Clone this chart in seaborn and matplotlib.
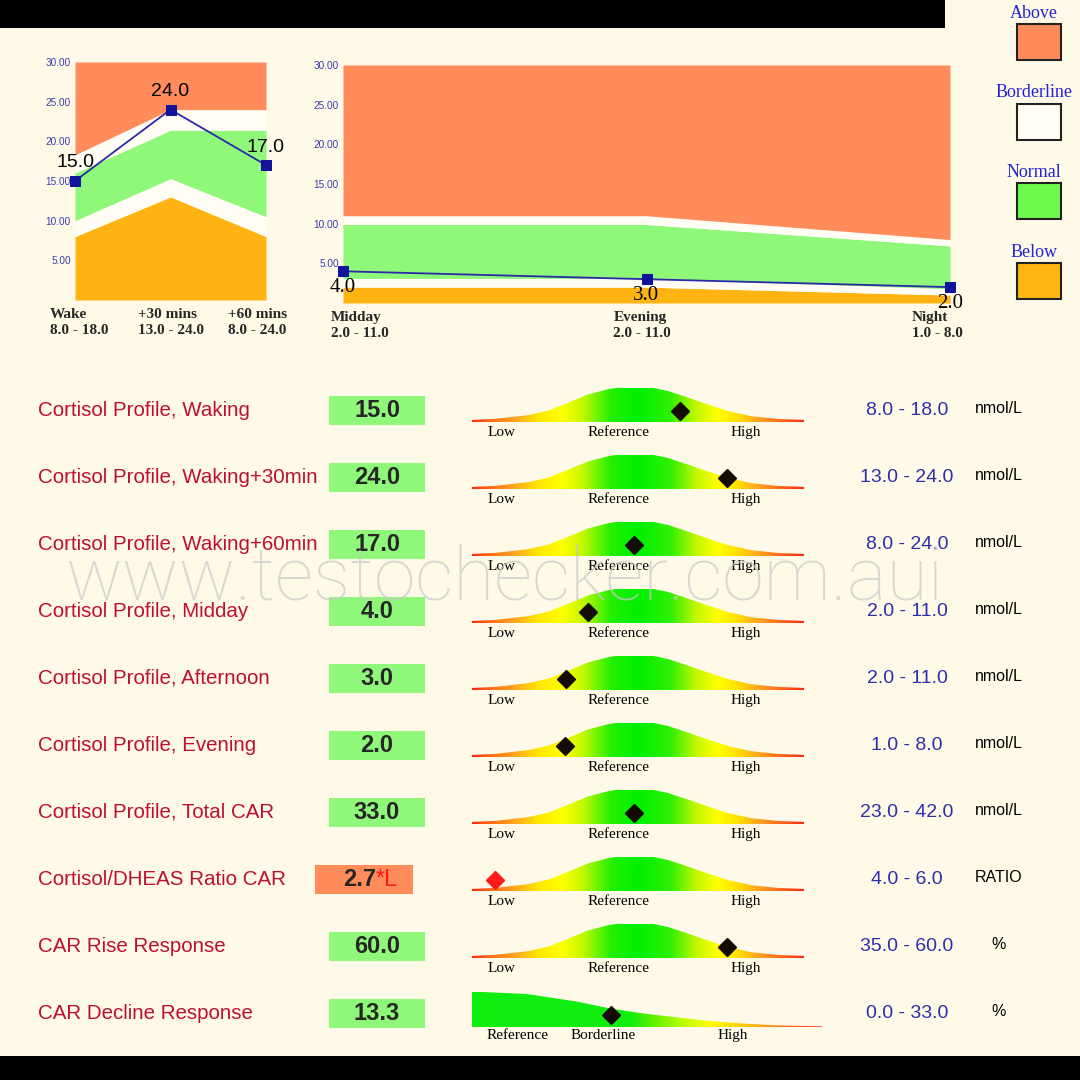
import numpy as np
import matplotlib
matplotlib.use("Agg")
import matplotlib.pyplot as plt
import matplotlib.transforms as mtransforms
from matplotlib.patches import Rectangle
from matplotlib.colors import LinearSegmentedColormap
import seaborn as sns

W = H = 1080

# --- top charts: morning curve ---
morning_times = ["Wake", "+30 mins", "+60 mins"]
morning_ranges = ["8.0 - 18.0", "13.0 - 24.0", "8.0 - 24.0"]
morning_values = [15.0, 24.0, 17.0]
morning_below_top = [8.0, 13.0, 8.0]
morning_normal_low = [10.0, 15.3, 10.5]
morning_normal_high = [16.0, 21.4, 21.4]
morning_above_low = [18.3, 24.0, 24.0]

# --- top charts: day curve ---
day_times = ["Midday", "Evening", "Night"]
day_ranges = ["2.0 - 11.0", "2.0 - 11.0", "1.0 - 8.0"]
day_values = [4.0, 3.0, 2.0]
day_below_top = [2.0, 2.0, 1.0]
day_normal_low = [3.1, 3.1, 1.8]
day_normal_high = [9.9, 9.9, 7.2]
day_above_low = [11.0, 11.0, 8.0]

y_ticks = [5, 10, 15, 20, 25, 30]

# --- legend ---
legend_labels = ["Above", "Borderline", "Normal", "Below"]
legend_colors = ["#ff8c5a", "#fffdf4", "#6cfb4c", "#ffb612"]

# --- result table ---
test_names = [
    "Cortisol Profile, Waking",
    "Cortisol Profile, Waking+30min",
    "Cortisol Profile, Waking+60min",
    "Cortisol Profile, Midday",
    "Cortisol Profile, Afternoon",
    "Cortisol Profile, Evening",
    "Cortisol Profile, Total CAR",
    "Cortisol/DHEAS Ratio CAR",
    "CAR Rise Response",
    "CAR Decline Response",
]
test_results = ["15.0", "24.0", "17.0", "4.0", "3.0", "2.0", "33.0", "2.7", "60.0", "13.3"]
test_flags = ["", "", "", "", "", "", "", "*L", "", ""]
test_ranges = ["8.0 - 18.0", "13.0 - 24.0", "8.0 - 24.0", "2.0 - 11.0", "2.0 - 11.0",
               "1.0 - 8.0", "23.0 - 42.0", "4.0 - 6.0", "35.0 - 60.0", "0.0 - 33.0"]
test_units = ["nmol/L"] * 7 + ["RATIO", "%", "%"]
# marker position along each gauge (0 = left end, 1 = right end)
gauge_pos = [0.627, 0.768, 0.488, 0.349, 0.283, 0.280, 0.488, 0.069, 0.768, 0.397]
gauge_kind = ["bell"] * 9 + ["decline"]

# gauge outlines
bell_x = [0.0, 0.07, 0.17, 0.23, 0.29, 0.35, 0.41, 0.44, 0.54, 0.59, 0.65, 0.71, 0.77, 0.84, 0.92, 1.0]
bell_h = [0.06, 0.09, 0.2, 0.33, 0.56, 0.80, 0.95, 1.0, 1.0, 0.90, 0.71, 0.51, 0.32, 0.17, 0.09, 0.06]
decline_x = [0.0, 0.157, 0.30, 0.394, 0.489, 0.586, 0.68, 0.774, 0.871, 1.0]
decline_h = [1.0, 0.93, 0.72, 0.53, 0.39, 0.28, 0.18, 0.11, 0.06, 0.03]
bell_labels = ["Low", "Reference", "High"]
bell_label_x = [0.09, 0.44, 0.825]
decline_labels = ["Reference", "Borderline", "High"]
decline_label_x = [0.131, 0.374, 0.746]

BG = "#fffae8"
ABOVE = "#ff8c5a"
BORDER = "#fffdf4"
NORMAL = "#8ff87a"
BELOW = "#ffb414"
NAVY = "#12129a"

bell_cmap = LinearSegmentedColormap.from_list("bell", [
    (0.0, "#ff2a10"), (0.06, "#ff7018"), (0.13, "#ffa820"), (0.2, "#ffe800"),
    (0.27, "#ffff00"), (0.33, "#c8f800"), (0.42, "#20f000"), (0.5, "#00f000"),
    (0.6, "#30f000"), (0.68, "#c8f800"), (0.74, "#ffff00"), (0.8, "#ffe000"),
    (0.87, "#ffa020"), (0.94, "#ff6018"), (1.0, "#ff2a10"),
])
decline_cmap = LinearSegmentedColormap.from_list("decline", [
    (0.0, "#10ee10"), (0.45, "#10ee10"), (0.52, "#60f000"), (0.6, "#b8ff00"),
    (0.68, "#ffff00"), (0.78, "#ffc800"), (0.86, "#ff9020"), (1.0, "#ff2a10"),
])

sns.set_theme(style="white")
plt.rcParams["font.family"] = ["Liberation Sans", "DejaVu Sans"]


def px_rect(x0, y0, x1, y1):
    """pixel box (top-left origin) -> figure fraction rect"""
    return [x0 / W, 1 - y1 / H, (x1 - x0) / W, (y1 - y0) / H]


def band_chart(ax, times, ranges, values, below_top, normal_low, normal_high, above_low,
               label_dy, label_font, label_size, name_shift):
    x = np.arange(len(times))
    zero = np.zeros(len(times))
    top = np.full(len(times), 30.0)
    ax.fill_between(x, zero, below_top, color=BELOW, lw=0)
    ax.fill_between(x, below_top, normal_low, color=BORDER, lw=0)
    ax.fill_between(x, normal_low, normal_high, color=NORMAL, lw=0)
    ax.fill_between(x, normal_high, above_low, color=BORDER, lw=0)
    ax.fill_between(x, above_low, top, color=ABOVE, lw=0)
    sns.lineplot(x=x, y=values, ax=ax, color="#2a2aa8", lw=1.3, marker="s",
                 markersize=7, markerfacecolor=NAVY, markeredgecolor=NAVY, clip_on=False)
    for xi, v in zip(x, values):
        ax.annotate(f"{v:.1f}", (xi, v), xytext=(0, label_dy), textcoords="offset points",
                    ha="center", va="center", fontsize=label_size, family=label_font,
                    color="black", annotation_clip=False, zorder=5)
    ax.set_xlim(0, len(times) - 1)
    ax.set_ylim(0, 30)
    ax.set_facecolor(BG)
    ax.set_xticks([])
    ax.set_yticks(y_ticks)
    ax.set_yticklabels([f"{t:.2f}" for t in y_ticks])
    ax.tick_params(axis="y", length=0, pad=3, labelsize=7.2, labelcolor="#3a3ab0")
    sns.despine(ax=ax, left=True, bottom=True, top=True, right=True)
    trans = mtransforms.blended_transform_factory(ax.transData, ax.transAxes)
    for xi, t, r, sh in zip(x, times, ranges, name_shift):
        ax.annotate(f"{t}\n{r}", (xi, -0.035), xycoords=trans, xytext=(sh, 0),
                    textcoords="offset points", ha="center", va="top",
                    multialignment="left", fontsize=11, fontweight="bold",
                    family="Liberation Serif", linespacing=1.25, annotation_clip=False)


fig = plt.figure(figsize=(W / 100, H / 100), dpi=100, facecolor=BG)

# black bars top and bottom
fig.add_artist(Rectangle((0, 1 - 28 / H), 945 / W, 28 / H, transform=fig.transFigure,
                         color="black", lw=0))
fig.add_artist(Rectangle((0, 0), 1, 24 / H, transform=fig.transFigure, color="black", lw=0))

ax_m = fig.add_axes(px_rect(75, 62, 266, 300))
band_chart(ax_m, morning_times, morning_ranges, morning_values, morning_below_top,
           morning_normal_low, morning_normal_high, morning_above_low,
           13, "Liberation Sans", 14, [3, 0, -6])

ax_d = fig.add_axes(px_rect(343, 65, 950, 303))
band_chart(ax_d, day_times, day_ranges, day_values, day_below_top,
           day_normal_low, day_normal_high, day_above_low,
           -12, "Liberation Serif", 15, [12, -3, -9])

# legend column
ax_leg = fig.add_axes(px_rect(980, 0, 1080, 320))
ax_leg.set_xlim(980, 1080)
ax_leg.set_ylim(320, 0)
ax_leg.axis("off")
for k, (lab, col) in enumerate(zip(legend_labels, legend_colors)):
    y0 = 24 + k * 79.7
    ax_leg.add_patch(Rectangle((1017, y0), 44, 36, facecolor=col, edgecolor="#222222", lw=1.5))
    ax_leg.text(1034, y0 - 11, lab, ha="center", va="center", family="Liberation Serif",
                fontsize=13, color="#2222dd")

# result table
ax_tab = fig.add_axes(px_rect(0, 377, W, 1047))
ax_tab.set_xlim(0, W)
ax_tab.set_ylim(9.5, -0.5)
ax_tab.axis("off")
for i, (name, res, flag, rng, unit) in enumerate(
        zip(test_names, test_results, test_flags, test_ranges, test_units)):
    ax_tab.text(38, i, name, ha="left", va="center", fontsize=14.8, color="#bd1030")
    if flag:
        ax_tab.add_patch(Rectangle((315, i - 0.22), 98, 0.44, facecolor=ABOVE, lw=0))
        ax_tab.text(376, i, res, ha="right", va="center", fontsize=17, fontweight="bold")
        ax_tab.text(376, i, flag, ha="left", va="center", fontsize=17, color="#ff1a1a")
    else:
        ax_tab.add_patch(Rectangle((329, i - 0.22), 96, 0.44, facecolor=NORMAL, lw=0))
        ax_tab.text(377, i, res, ha="center", va="center", fontsize=17, fontweight="bold")
    ax_tab.text(907, i, rng, ha="center", va="center", fontsize=14, color="#2e2eac")
    ax_tab.text(999, i - 0.03, unit, ha="center", va="center", fontsize=11.5, color="black")

# gauges
grad = np.linspace(0, 1, 256).reshape(1, -1)
for i, (pos, kind, flag) in enumerate(zip(gauge_pos, gauge_kind, test_flags)):
    cy = 377 + (i + 0.5) * 67
    if kind == "bell":
        gx = fig.add_axes(px_rect(472, cy - 23, 804, cy + 11.5))
        xs, hs, cmap = bell_x, bell_h, bell_cmap
        labels, label_x, ly, my = bell_labels, bell_label_x, -0.3, 0.32
    else:
        gx = fig.add_axes(px_rect(472, cy - 22, 822, cy + 14))
        xs, hs, cmap = decline_x, decline_h, decline_cmap
        labels, label_x, ly, my = decline_labels, decline_label_x, -0.22, 0.36
    gx.set_xlim(0, 1)
    gx.set_ylim(0, 1)
    gx.axis("off")
    xs = np.asarray(xs)
    poly = gx.fill(np.r_[xs, xs[::-1]], np.r_[hs, np.zeros(len(xs))],
                   facecolor="none", edgecolor="none")[0]
    im = gx.imshow(grad, cmap=cmap, extent=[0, 1, 0, 1], aspect="auto", origin="lower")
    im.set_clip_path(poly)
    mcol = "#ff1a1a" if flag else "#140c04"
    gx.plot([pos], [my], marker="D", markersize=9.5, color=mcol, mec=mcol, clip_on=False)
    for lab, lx in zip(labels, label_x):
        gx.text(lx, ly, lab, ha="center", va="center", family="Liberation Serif",
                fontsize=11, color="black", clip_on=False)

# watermark
fig.text(505 / W, 1 - 600 / H, "www.testochecker.com.aui", ha="center", va="baseline",
         family="Roboto", fontweight="light", fontsize=54, color="#c8c8c8", alpha=0.7,
         zorder=10)

fig.savefig("out.png", dpi=100, facecolor=BG)
